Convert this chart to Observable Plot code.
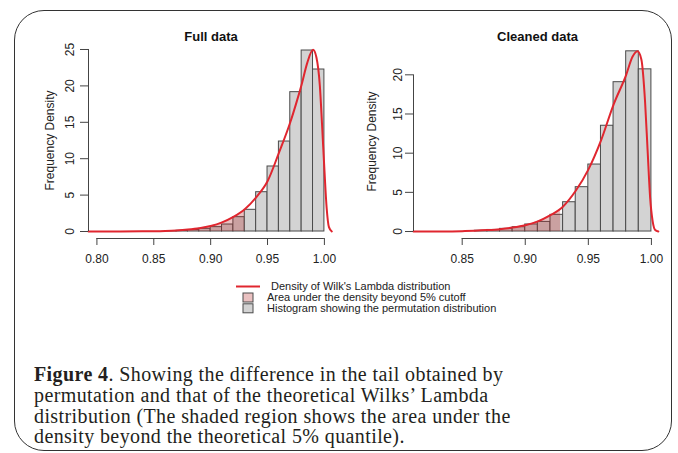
<!DOCTYPE html>
<html><head><meta charset="utf-8">
<script src="https://cdn.jsdelivr.net/npm/d3@7"></script>
<script src="https://cdn.jsdelivr.net/npm/@observablehq/plot@0.6"></script>
<style>
body{margin:0;background:#fff;}
#wrap{position:relative;width:678px;height:453px;overflow:hidden;font-family:"Liberation Sans",Arial,sans-serif;}
#frame{position:absolute;left:14px;top:10px;width:658px;height:441px;border:1.5px solid #333;border-radius:30px;box-sizing:border-box;}
.panel{position:absolute;top:0;}
#legend{position:absolute;left:0;top:0;width:678px;height:330px;pointer-events:none;}
#caption{position:absolute;left:34px;top:364px;font-family:"Liberation Serif",serif;font-size:20px;letter-spacing:0.4px;line-height:20.8px;color:#231f20;white-space:nowrap;}
</style></head>
<body>
<div id="wrap">
  <div id="frame"></div>
  <div id="left" class="panel" style="left:0px"></div>
  <div id="right" class="panel" style="left:340px"></div>
  <svg id="legend" width="678" height="330"></svg>
  <div id="caption"><b>Figure 4</b>. Showing the difference in the tail obtained by<br>permutation and that of the theoretical Wilks’ Lambda<br>distribution (The shaded region shows the area under the<br>density beyond the theoretical 5% quantile).</div>
</div>
<script>
// ---------- data ----------
const binWidth = 0.01;
// Full data histogram (bin left edges and frequency densities)
const fullBinStarts = [0.86, 0.87, 0.88, 0.89, 0.90, 0.91, 0.92, 0.93, 0.94, 0.95, 0.96, 0.97, 0.98, 0.99];
const fullBinHeights = [0.05, 0.1, 0.2, 0.37, 0.6, 0.96, 1.97, 2.98, 5.4, 8.93, 12.36, 19.14, 24.86, 22.25];
// Full data: Wilks' Lambda density
const fullDensX = [0.7926, 0.82, 0.84, 0.85, 0.86, 0.87, 0.88, 0.89, 0.90, 0.91, 0.92, 0.93, 0.94, 0.95, 0.96, 0.97, 0.975, 0.98, 0.985, 0.99, 0.993, 0.996, 0.998, 1.000, 1.002, 1.004, 1.0065];
const fullDensY = [0, 0.005, 0.02, 0.04, 0.08, 0.15, 0.27, 0.45, 0.75, 1.25, 2.0, 3.05, 4.7, 6.9, 10.8, 15.0, 17.5, 20.2, 23.2, 24.95, 23.9, 20.0, 14.5, 8.5, 3.2, 0.6, 0];
const fullCutoff = 0.93;
const fullXTicks = [0.80, 0.85, 0.90, 0.95, 1.00];
const fullYTicks = [0, 5, 10, 15, 20, 25];

// Cleaned data histogram
const cleanBinStarts = [0.86, 0.87, 0.88, 0.89, 0.90, 0.91, 0.92, 0.93, 0.94, 0.95, 0.96, 0.97, 0.98, 0.99];
const cleanBinHeights = [0.1, 0.2, 0.34, 0.55, 0.9, 1.23, 2.13, 3.74, 5.66, 8.55, 13.5, 19.06, 23.0, 20.7];
// Cleaned data: Wilks' Lambda density
const cleanDensX = [0.8114, 0.83, 0.85, 0.86, 0.87, 0.88, 0.89, 0.90, 0.91, 0.92, 0.928, 0.93, 0.94, 0.95, 0.96, 0.97, 0.98, 0.985, 0.989, 0.992, 0.995, 0.997, 0.999, 1.001, 1.003, 1.0055];
const cleanDensY = [0, 0.01, 0.05, 0.1, 0.18, 0.3, 0.5, 0.8, 1.3, 2.1, 2.9, 3.2, 5.2, 7.9, 11.6, 16.2, 20.0, 22.3, 23.0, 22.0, 16.5, 10.3, 4.3, 1.3, 0.2, 0];
const cleanCutoff = 0.928;
const cleanXTicks = [0.85, 0.90, 0.95, 1.00];
const cleanYTicks = [0, 5, 10, 15, 20];

const titles = ["Full data", "Cleaned data"];
const yLabel = "Frequency Density";
const legendLabels = ["Density of Wilk's Lambda distribution", "Area under the density beyond 5% cutoff", "Histogram showing the permutation distribution"];

// ---------- styles ----------
const barFill = "#d3d3d3", barStroke = "#4a4a4a", lineColor = "#e0262f", shadeColor = "#b22222", shadeOpacity = 0.28;
const font = "'Liberation Sans', Arial, sans-serif";

function panel(o) {
  const bars = o.starts.map((s, i) => ({x1: s, x2: s + binWidth, y: o.heights[i]}));
  const dens = o.dx.map((x, i) => ({x, y: o.dy[i]}));
  const shade = dens.filter(p => p.x <= o.cutoff + 1e-9);
  const x0 = o.xDomain[0], y0 = o.yDomain[0];
  return Plot.plot({
    width: o.width, height: o.height,
    marginLeft: o.ml, marginRight: o.mr, marginTop: o.mt, marginBottom: o.mb,
    x: {domain: o.xDomain}, y: {domain: o.yDomain},
    style: {fontFamily: font, fontSize: "12px", color: "#333", background: "transparent", overflow: "visible"},
    marks: [
      Plot.rect(bars, {x1: "x1", x2: "x2", y1: () => 0, y2: "y", fill: barFill, stroke: barStroke, strokeWidth: 1}),
      Plot.areaY(shade, {x: "x", y: "y", fill: shadeColor, fillOpacity: shadeOpacity, curve: "monotone-x"}),
      Plot.line(dens, {x: "x", y: "y", stroke: lineColor, strokeWidth: 2, curve: "monotone-x"}),
      Plot.ruleX([x0], {y1: () => o.yTicks[0], y2: () => o.yTicks[o.yTicks.length - 1], stroke: "#444"}),
      Plot.ruleY([y0], {x1: () => o.xTicks[0], x2: () => o.xTicks[o.xTicks.length - 1], stroke: "#444"}),
      Plot.axisX({ticks: o.xTicks, tickSize: 7, tickPadding: 9, tickFormat: d3.format(".2f"), label: null, stroke: "#444", fill: "#222"}),
      Plot.axisY({ticks: o.yTicks, tickSize: 8, tickFormat: () => "", label: null, stroke: "#444"}),
      Plot.text(o.yTicks, {x: () => x0, y: d => d, text: d => String(d), rotate: -90, dx: o.tickDx, fill: "#222", fontSize: 12}),
      Plot.text([yLabel], {frameAnchor: "left", textAnchor: "middle", lineAnchor: "middle", dx: o.labDx, rotate: -90, fill: "#222", fontSize: 12}),
      Plot.text([o.title], {frameAnchor: "top", lineAnchor: "middle", dy: o.titleDy, fontWeight: "bold", fontSize: 13, fill: "#111"})
    ]
  });
}

document.getElementById("left").appendChild(panel({
  title: titles[0], starts: fullBinStarts, heights: fullBinHeights, dx: fullDensX, dy: fullDensY,
  cutoff: fullCutoff, xTicks: fullXTicks, yTicks: fullYTicks,
  xDomain: [0.7926, 1.008], yDomain: [-0.96, 25.96],
  width: 340, height: 275, ml: 88, mr: 7, mt: 42, mb: 37, tickDx: -18, labDx: -38, titleDy: -6
}));
document.getElementById("right").appendChild(panel({
  title: titles[1], starts: cleanBinStarts, heights: cleanBinHeights, dx: cleanDensX, dy: cleanDensY,
  cutoff: cleanCutoff, xTicks: cleanXTicks, yTicks: cleanYTicks,
  xDomain: [0.8114, 1.008], yDomain: [-0.89, 23.87],
  width: 338, height: 275, ml: 73, mr: 17, mt: 44, mb: 37, tickDx: -15, labDx: -41, titleDy: -8
}));

// ---------- legend ----------
const lg = d3.select("#legend");
const rowY = [286.5, 297.5, 308.3];
lg.append("line").attr("x1", 236).attr("x2", 260).attr("y1", rowY[0]).attr("y2", rowY[0]).attr("stroke", lineColor).attr("stroke-width", 2);
lg.append("rect").attr("x", 243).attr("y", rowY[1] - 4.5).attr("width", 10).attr("height", 9).attr("fill", shadeColor).attr("fill-opacity", shadeOpacity).attr("stroke", barStroke);
lg.append("rect").attr("x", 243).attr("y", rowY[2] - 4.5).attr("width", 10).attr("height", 9).attr("fill", barFill).attr("stroke", barStroke);
legendLabels.forEach((t, i) => {
  lg.append("text").attr("x", i === 0 ? 271 : 267).attr("y", rowY[i]).attr("dy", "0.35em")
    .attr("font-family", font).attr("font-size", 11).attr("fill", "#222").text(t);
});
</script>
</body></html>
